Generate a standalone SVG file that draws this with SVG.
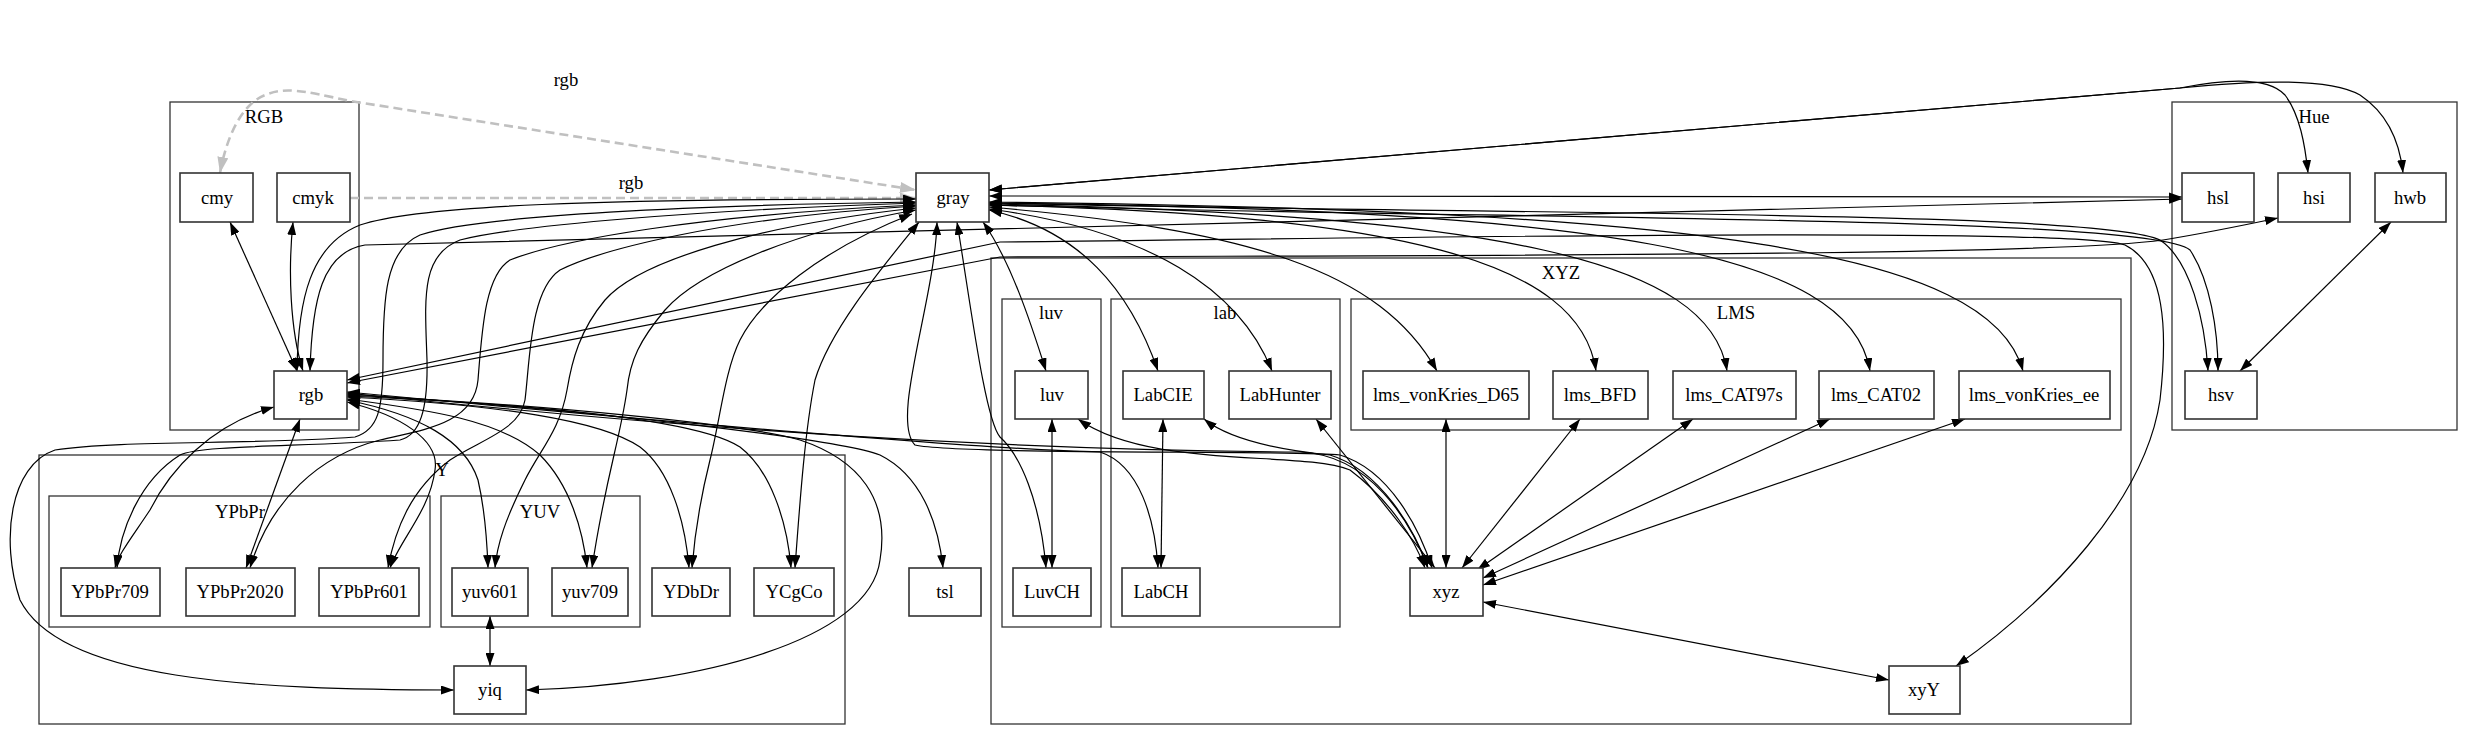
<svg xmlns="http://www.w3.org/2000/svg" width="2473" height="741" viewBox="0 0 2473 741">
<style>
.cl{fill:none;stroke:#333;stroke-width:1.3}
.nd rect{fill:#fff;stroke:#333;stroke-width:1.6}
text{font-family:"Liberation Serif","Times New Roman",serif;font-size:18.67px;fill:#000;text-anchor:middle}
.e{fill:none;stroke:#000;stroke-width:1.2;marker-start:url(#ah);marker-end:url(#ah)}
.g{fill:none;stroke:#c0c0c0;stroke-width:2.6;stroke-dasharray:9,5}
</style>
<defs>
<marker id="ah" viewBox="0 0 13 9" refX="13" refY="4.5" markerWidth="13" markerHeight="9" markerUnits="userSpaceOnUse" orient="auto-start-reverse"><path d="M0,0 L13,4.5 L0,9 z" fill="#000"/></marker>
<marker id="ag" viewBox="0 0 16 11" refX="16" refY="5.5" markerWidth="16" markerHeight="11" markerUnits="userSpaceOnUse" orient="auto-start-reverse"><path d="M0,0 L16,5.5 L0,11 z" fill="#c0c0c0"/></marker>
</defs>
<rect width="2473" height="741" fill="#fff"/>
<g id="clusters">
<g id="cluster_RGB"><rect class="cl" x="170" y="102" width="189" height="328"/><text x="264" y="123">RGB</text></g>
<g id="cluster_Y"><rect class="cl" x="39" y="455" width="806" height="269"/><text x="442" y="476">Y</text></g>
<g id="cluster_YPbPr"><rect class="cl" x="49" y="496" width="381" height="131"/><text x="240" y="518">YPbPr</text></g>
<g id="cluster_YUV"><rect class="cl" x="441" y="496" width="199" height="131"/><text x="540" y="518">YUV</text></g>
<g id="cluster_XYZ"><rect class="cl" x="991" y="258" width="1140" height="466"/><text x="1561" y="279">XYZ</text></g>
<g id="cluster_luv"><rect class="cl" x="1002" y="299" width="99" height="328"/><text x="1051" y="319">luv</text></g>
<g id="cluster_lab"><rect class="cl" x="1111" y="299" width="229" height="328"/><text x="1225" y="319">lab</text></g>
<g id="cluster_LMS"><rect class="cl" x="1351" y="299" width="770" height="131"/><text x="1736" y="319">LMS</text></g>
<g id="cluster_Hue"><rect class="cl" x="2172" y="102" width="285" height="328"/><text x="2314" y="123">Hue</text></g>
</g>
<g id="connectors">
<path class="g" d="M220,173 C226,140 240,105 265,95 C285,87 300,90 350,101 L916,190" marker-start="url(#ag)" marker-end="url(#ag)"/>
<text x="566" y="86">rgb</text>
<path class="g" d="M350,198 L916,198" marker-end="url(#ag)"/>
<text x="631" y="189">rgb</text>
<path class="e" d="M916,199 C600,199 420,205 360,225 C310,245 298,300 297,371"/>
<path class="e" d="M310,371 C312,300 322,252 365,245 L2182,199"/>
<path class="e" d="M347,383 L1000,257 C1500,255 2050,256 2163,240 C2200,234 2240,226 2278,218"/>
<path class="e" d="M347,380 L1000,242 C1500,236 2080,228 2125,245 C2165,265 2168,330 2160,400 C2145,500 2050,600 1956,666"/>
<path class="e" d="M989,196 L2182,197"/>
<path class="e" d="M989,190 L2180,88 C2230,78 2270,78 2285,95 C2300,115 2305,145 2308,173"/>
<path class="e" d="M989,190 L2180,88 C2260,80 2330,78 2360,95 C2390,115 2400,145 2403,173"/>
<path class="e" d="M989,203 C1500,215 2100,210 2160,240 C2190,260 2205,320 2208,371"/>
<path class="e" d="M989,205 C1500,220 2150,215 2190,250 C2210,280 2218,330 2218,371"/>
<path class="e" d="M983,222 C1010,260 1030,320 1046,371"/>
<path class="e" d="M989,210 C1080,230 1130,290 1158,371"/>
<path class="e" d="M989,209 C1150,230 1240,290 1272,371"/>
<path class="e" d="M989,207 C1250,230 1380,270 1437,371"/>
<path class="e" d="M989,205 C1400,215 1580,260 1596,371"/>
<path class="e" d="M989,204 C1500,215 1710,260 1727,371"/>
<path class="e" d="M989,203 C1600,210 1850,250 1870,371"/>
<path class="e" d="M989,202 C1700,210 1990,250 2023,371"/>
<path class="e" d="M937,222 C935,300 890,420 915,445 C960,455 1300,450 1340,455 C1390,470 1420,530 1432,568"/>
<path class="e" d="M957,222 C970,300 985,420 1000,437 C1020,455 1040,500 1046,568"/>
<path class="e" d="M916,202 C700,205 480,215 420,235 C385,250 383,300 383,360 C383,410 378,430 355,437 C250,445 120,440 55,450 C10,465 0,540 20,600 C60,680 250,690 454,690"/>
<path class="e" d="M916,203 C700,210 520,225 460,240 C420,255 425,300 427,360 C428,410 420,435 400,440 C300,447 200,445 180,455 C140,480 120,530 117,568"/>
<path class="e" d="M916,205 C700,215 560,240 510,260 C485,275 482,330 478,380 C474,425 420,430 380,440 C320,455 270,500 250,568"/>
<path class="e" d="M916,206 C720,218 600,250 560,270 C530,290 530,360 525,400 C520,430 480,440 450,460 C410,490 395,530 388,568"/>
<path class="e" d="M916,208 C760,225 640,260 605,300 C580,330 572,360 567,390 C560,430 540,450 525,480 C505,520 497,545 495,568"/>
<path class="e" d="M916,210 C800,230 700,270 665,310 C640,340 630,360 627,390 C620,440 605,480 592,568"/>
<path class="e" d="M912,214 C820,250 760,300 740,340 C725,370 720,420 710,460 C700,500 695,530 692,568"/>
<path class="e" d="M919,222 C880,270 830,330 815,380 C805,430 800,500 795,568"/>
<path class="e" d="M230,222 L297,371"/>
<path class="e" d="M293,222 C288,270 290,330 303,371"/>
<path class="e" d="M274,407 C210,425 170,470 150,510 C130,540 118,555 115,568"/>
<path class="e" d="M300,419 L246,568"/>
<path class="e" d="M347,402 C400,415 440,440 435,470 C430,510 400,540 390,568"/>
<path class="e" d="M347,400 C420,415 465,440 478,480 C485,510 487,540 488,568"/>
<path class="e" d="M347,399 C430,410 500,420 540,455 C570,485 583,530 587,568"/>
<path class="e" d="M347,397 C500,405 600,420 640,447 C670,470 685,520 689,568"/>
<path class="e" d="M347,396 C550,405 700,420 740,447 C770,470 787,520 791,568"/>
<path class="e" d="M347,395 C550,405 750,425 800,440 C860,460 890,500 880,560 C870,640 700,685 526,690"/>
<path class="e" d="M347,394 C600,410 840,440 880,455 C920,475 938,520 943,568"/>
<path class="e" d="M347,393 C700,430 1000,450 1300,452 C1370,455 1410,520 1428,568"/>
<path class="e" d="M347,392 C700,425 1000,450 1100,452 C1140,465 1155,520 1158,568"/>
<path class="e" d="M1052,419 L1052,568"/>
<path class="e" d="M1163,419 L1161,568"/>
<path class="e" d="M1078,419 C1150,470 1300,450 1350,470 C1390,500 1415,540 1425,568"/>
<path class="e" d="M1204,419 C1230,440 1280,450 1330,455 C1380,470 1415,530 1428,568"/>
<path class="e" d="M1316,419 L1435,568"/>
<path class="e" d="M1446,419 L1446,568"/>
<path class="e" d="M1580,419 L1462,568"/>
<path class="e" d="M1693,419 L1477,570"/>
<path class="e" d="M1830,419 L1483,578"/>
<path class="e" d="M1965,419 L1483,585"/>
<path class="e" d="M1483,602 L1889,680"/>
<path class="e" d="M2391,222 L2240,371"/>
<path class="e" d="M490,616 L490,666"/>
</g>
<g id="nodes">
<g id="n_cmy" class="nd"><rect x="180" y="173" width="73" height="49"/><text x="217" y="204">cmy</text></g>
<g id="n_cmyk" class="nd"><rect x="277" y="173" width="73" height="49"/><text x="313" y="204">cmyk</text></g>
<g id="n_gray" class="nd"><rect x="916" y="173" width="73" height="49"/><text x="953" y="204">gray</text></g>
<g id="n_rgb" class="nd"><rect x="274" y="371" width="73" height="48"/><text x="311" y="401">rgb</text></g>
<g id="n_YPbPr709" class="nd"><rect x="61" y="568" width="99" height="48"/><text x="110" y="598">YPbPr709</text></g>
<g id="n_YPbPr2020" class="nd"><rect x="186" y="568" width="109" height="48"/><text x="240" y="598">YPbPr2020</text></g>
<g id="n_YPbPr601" class="nd"><rect x="319" y="568" width="100" height="48"/><text x="369" y="598">YPbPr601</text></g>
<g id="n_yuv601" class="nd"><rect x="452" y="568" width="76" height="48"/><text x="490" y="598">yuv601</text></g>
<g id="n_yuv709" class="nd"><rect x="552" y="568" width="76" height="48"/><text x="590" y="598">yuv709</text></g>
<g id="n_YDbDr" class="nd"><rect x="652" y="568" width="78" height="48"/><text x="691" y="598">YDbDr</text></g>
<g id="n_YCgCo" class="nd"><rect x="754" y="568" width="80" height="48"/><text x="794" y="598">YCgCo</text></g>
<g id="n_tsl" class="nd"><rect x="909" y="568" width="72" height="48"/><text x="945" y="598">tsl</text></g>
<g id="n_yiq" class="nd"><rect x="454" y="666" width="72" height="48"/><text x="490" y="696">yiq</text></g>
<g id="n_luv" class="nd"><rect x="1015" y="371" width="73" height="48"/><text x="1052" y="401">luv</text></g>
<g id="n_LabCIE" class="nd"><rect x="1123" y="371" width="81" height="48"/><text x="1163" y="401">LabCIE</text></g>
<g id="n_LabHunter" class="nd"><rect x="1229" y="371" width="102" height="48"/><text x="1280" y="401">LabHunter</text></g>
<g id="n_lms_vonKries_D65" class="nd"><rect x="1363" y="371" width="166" height="48"/><text x="1446" y="401">lms_vonKries_D65</text></g>
<g id="n_lms_BFD" class="nd"><rect x="1553" y="371" width="95" height="48"/><text x="1600" y="401">lms_BFD</text></g>
<g id="n_lms_CAT97s" class="nd"><rect x="1673" y="371" width="123" height="48"/><text x="1734" y="401">lms_CAT97s</text></g>
<g id="n_lms_CAT02" class="nd"><rect x="1819" y="371" width="115" height="48"/><text x="1876" y="401">lms_CAT02</text></g>
<g id="n_lms_vonKries_ee" class="nd"><rect x="1959" y="371" width="151" height="48"/><text x="2034" y="401">lms_vonKries_ee</text></g>
<g id="n_LuvCH" class="nd"><rect x="1013" y="568" width="78" height="48"/><text x="1052" y="598">LuvCH</text></g>
<g id="n_LabCH" class="nd"><rect x="1122" y="568" width="78" height="48"/><text x="1161" y="598">LabCH</text></g>
<g id="n_xyz" class="nd"><rect x="1410" y="568" width="73" height="48"/><text x="1446" y="598">xyz</text></g>
<g id="n_xyY" class="nd"><rect x="1889" y="666" width="71" height="48"/><text x="1924" y="696">xyY</text></g>
<g id="n_hsl" class="nd"><rect x="2182" y="173" width="72" height="49"/><text x="2218" y="204">hsl</text></g>
<g id="n_hsi" class="nd"><rect x="2278" y="173" width="72" height="49"/><text x="2314" y="204">hsi</text></g>
<g id="n_hwb" class="nd"><rect x="2375" y="173" width="71" height="49"/><text x="2410" y="204">hwb</text></g>
<g id="n_hsv" class="nd"><rect x="2185" y="371" width="72" height="48"/><text x="2221" y="401">hsv</text></g>
</g>
</svg>
